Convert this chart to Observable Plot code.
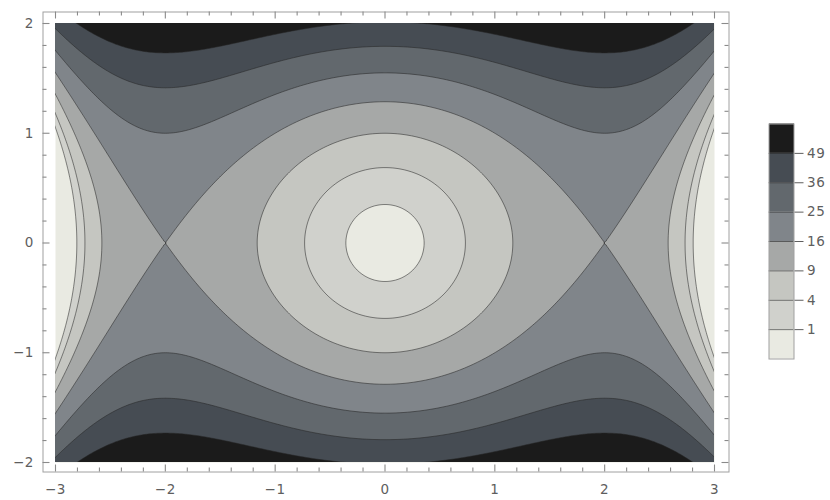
<!DOCTYPE html>
<html><head><meta charset="utf-8">
<script src="https://cdn.jsdelivr.net/npm/d3@7"></script>
<script src="https://cdn.jsdelivr.net/npm/@observablehq/plot@0.6"></script>
<style>
html,body{margin:0;padding:0;background:#fff;}
#wrap{position:relative;width:830px;height:500px;}
#main,#overlay{position:absolute;left:0;top:0;}
#legend{position:absolute;left:740px;top:0;}
</style></head><body><div id="wrap"><div id="main"></div><div id="overlay"></div><div id="legend"></div></div>
<script>
// Contour levels and legend labels
const levels = [1, 4, 9, 16, 25, 36, 49];
const levelLabels = ["1", "4", "9", "16", "25", "36", "49"];
// Band fills, lowest (< 1) to highest (> 49)
const bandColors = ["#e9eae2", "#d0d1cc", "#c5c6c1", "#a6a8a7", "#80858a", "#62686d", "#464c53", "#1b1b1b"];
// Field: f(x, y) = sum coef * x^powX * y^powY
const coef = [8, -1, 8, 1];
const powX = [2, 4, 0, 0];
const powY = [0, 0, 2, 4];
// Axis ticks
const xMajor = [-3, -2, -1, 0, 1, 2, 3];
const xLabels = ["−3", "−2", "−1", "0", "1", "2", "3"];
const yMajor = [-2, -1, 0, 1, 2];
const yLabels = ["−2", "−1", "0", "1", "2"];
const xMinor = d3.range(-15, 16).map(i => i / 5).filter(v => !Number.isInteger(v));
const yMinor = d3.range(-10, 11).map(i => i / 5).filter(v => !Number.isInteger(v));

function field(x, y) {
  let s = 0;
  for (let i = 0; i < coef.length; ++i) s += coef[i] * x ** powX[i] * y ** powY[i];
  return s;
}

const W = 740, H = 500;
const M = {left: 55, right: 26, top: 23, bottom: 38};
const innerW = W - M.left - M.right, innerH = H - M.top - M.bottom;
const gap = {left: 12.5, right: 14.5, top: 11.5, bottom: 9.5};
const frameCol = "#a0a0a0";
const tickCol = "#8a8a8a";
const textCol = "#5e5e5e";
const font = "DejaVu Sans, Verdana, sans-serif";
const fontSize = 13.5;
const textStyle = {fontFamily: font, fontSize: fontSize + "px", letterSpacing: "0.6px"};

// 1) data region: filled bands and contour lines
const main = Plot.plot({
  width: W, height: H,
  marginLeft: M.left, marginRight: M.right, marginTop: M.top, marginBottom: M.bottom,
  x: {domain: [-3, 3], axis: null},
  y: {domain: [-2, 2], axis: null},
  color: {type: "threshold", domain: levels, range: bandColors},
  style: {...textStyle, background: "white"},
  marks: [
    Plot.frame({fill: bandColors[0], stroke: null}),
    Plot.contour({value: field, x1: -3.5, x2: 3.5, y1: -2.5, y2: 2.5, thresholds: levels,
      fill: "value", stroke: "#262626", strokeOpacity: 0.6, strokeWidth: 0.9, clip: true})
  ]
});
document.getElementById("main").append(main);

// 2) outer frame with padding, inward ticks and tick labels
const oW = innerW + gap.left + gap.right, oH = innerH + gap.top + gap.bottom;
const ux = 6 / innerW, uy = 4 / innerH;
const ticks = [];
for (const [vals, len] of [[xMajor, 7], [xMinor, 4]]) {
  ticks.push(Plot.ruleX(vals, {x: d => d, insetTop: oH - len, stroke: tickCol, strokeWidth: 1.1}));
  ticks.push(Plot.ruleX(vals, {x: d => d, insetBottom: oH - len, stroke: tickCol, strokeWidth: 1.1}));
}
for (const [vals, len] of [[yMajor, 7], [yMinor, 4]]) {
  ticks.push(Plot.ruleY(vals, {y: d => d, insetRight: oW - len, stroke: tickCol, strokeWidth: 1.1}));
  ticks.push(Plot.ruleY(vals, {y: d => d, insetLeft: oW - len, stroke: tickCol, strokeWidth: 1.1}));
}
const overlay = Plot.plot({
  width: W, height: H,
  marginLeft: M.left - gap.left, marginRight: M.right - gap.right,
  marginTop: M.top - gap.top, marginBottom: M.bottom - gap.bottom,
  x: {domain: [-3 - gap.left * ux, 3 + gap.right * ux], axis: null},
  y: {domain: [-2 - gap.bottom * uy, 2 + gap.top * uy], axis: null},
  style: {...textStyle, background: "none"},
  marks: [
    Plot.frame({stroke: frameCol}),
    ...ticks,
    Plot.axisX(xMajor, {anchor: "bottom", tickSize: 0, tickPadding: 12,
      tickFormat: d => xLabels[xMajor.indexOf(d)], fill: textCol, fontSize}),
    Plot.axisY(yMajor, {anchor: "left", tickSize: 0, tickPadding: 9,
      tickFormat: d => yLabels[yMajor.indexOf(d)], fill: textCol, fontSize})
  ]
});
document.getElementById("overlay").append(overlay);

// 3) legend bar
const legendBands = bandColors.map((c, i) => ({color: c, lo: i, hi: i + 1}));
const legendTicks = d3.range(1, bandColors.length);
const legend = Plot.plot({
  width: 90, height: 500,
  marginLeft: 28.5, marginRight: 36.5, marginTop: 123.5, marginBottom: 141.5,
  x: {axis: null, padding: 0},
  y: {domain: [0, bandColors.length], axis: null},
  color: {type: "identity"},
  style: {...textStyle, background: "white"},
  marks: [
    Plot.barY(legendBands, {x: () => "bar", y1: "lo", y2: "hi", fill: "color"}),
    Plot.ruleY(legendTicks, {y: d => d, stroke: "#262626", strokeOpacity: 0.6}),
    Plot.frame({stroke: frameCol}),
    Plot.axisY(legendTicks, {anchor: "right", tickSize: 9, tickPadding: 4,
      tickFormat: i => levelLabels[i - 1], stroke: textCol, fill: textCol, fontSize})
  ]
});
document.getElementById("legend").append(legend);
</script></body></html>
